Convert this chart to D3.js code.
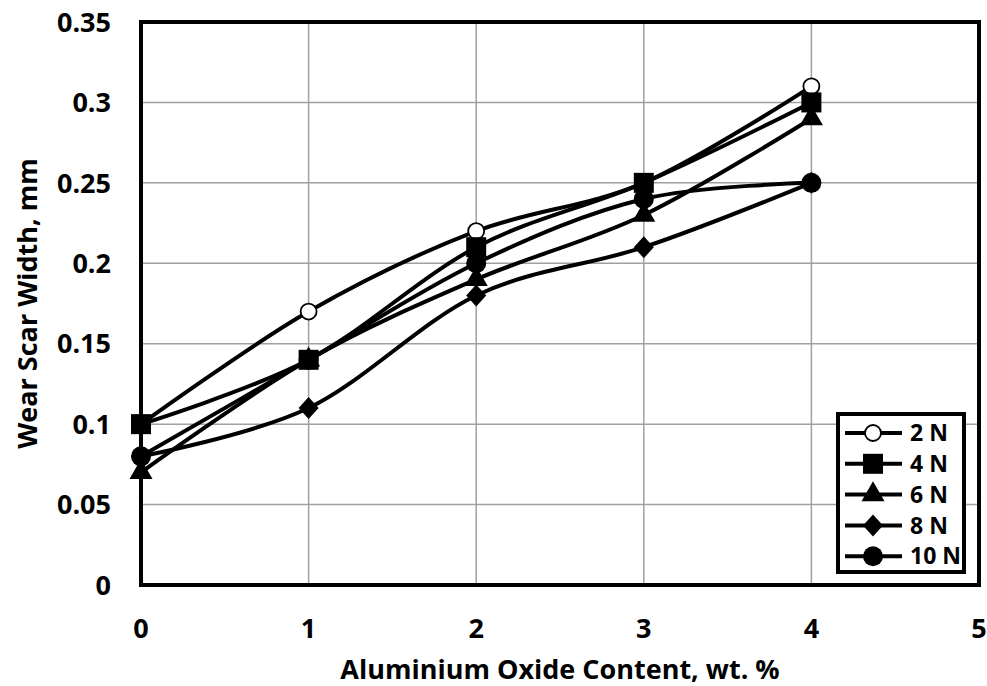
<!DOCTYPE html>
<html>
<head>
<meta charset="utf-8">
<script src="https://cdn.jsdelivr.net/npm/d3@7"></script>
<style>
  body { margin: 0; background: #fff; }
  text { font-family: "Open Sans", Lato, sans-serif; font-weight: bold; fill: #000; }
</style>
</head>
<body>
<div id="chart"></div>
<script>
// data
const contents = [0, 1, 2, 3, 4];
const load2N  = [0.10, 0.17, 0.22, 0.25, 0.31];
const load4N  = [0.10, 0.14, 0.21, 0.25, 0.30];
const load6N  = [0.07, 0.14, 0.19, 0.23, 0.29];
const load8N  = [0.08, 0.11, 0.18, 0.21, 0.25];
const load10N = [0.08, 0.14, 0.20, 0.24, 0.25];
const seriesNames = ['2 N', '4 N', '6 N', '8 N', '10 N'];
const xTicks = [0, 1, 2, 3, 4, 5];
const yTicks = [0, 0.05, 0.1, 0.15, 0.2, 0.25, 0.3, 0.35];

const width = 987, height = 686;
const margin = {top: 22, right: 8, bottom: 101, left: 141};

const svg = d3.select('#chart').append('svg')
    .attr('width', width)
    .attr('height', height);

const x = d3.scaleLinear().domain([0, 5]).range([margin.left, width - margin.right]);
const y = d3.scaleLinear().domain([0, 0.35]).range([height - margin.bottom, margin.top]);

// gridlines
svg.append('g').selectAll('line.h')
    .data(yTicks.slice(1, -1))
    .join('line')
    .attr('x1', x(0)).attr('x2', x(5))
    .attr('y1', d => y(d)).attr('y2', d => y(d))
    .attr('stroke', '#a0a0a0').attr('stroke-width', 1.5);
svg.append('g').selectAll('line.v')
    .data(xTicks.slice(1, -1))
    .join('line')
    .attr('y1', y(0)).attr('y2', y(0.35))
    .attr('x1', d => x(d)).attr('x2', d => x(d))
    .attr('stroke', '#a0a0a0').attr('stroke-width', 1.5);

// tick labels
svg.append('g').selectAll('text')
    .data(yTicks)
    .join('text')
    .attr('x', x(0) - 30)
    .attr('y', d => y(d))
    .attr('dy', '0.36em')
    .attr('text-anchor', 'end')
    .style('font-size', '27px')
    .text(d => d);
svg.append('g').selectAll('text')
    .data(xTicks)
    .join('text')
    .attr('x', d => x(d))
    .attr('y', y(0) + 53)
    .attr('text-anchor', 'middle')
    .style('font-size', '27px')
    .text(d => d);

// axis titles
svg.append('text')
    .attr('x', (x(0) + x(5)) / 2)
    .attr('y', 679)
    .attr('text-anchor', 'middle')
    .style('font-size', '27px')
    .text('Aluminium Oxide Content, wt. %');
svg.append('text')
    .attr('transform', `translate(37,${(y(0) + y(0.35)) / 2}) rotate(-90)`)
    .attr('text-anchor', 'middle')
    .style('font-size', '27px')
    .text('Wear Scar Width, mm');

// series
const all = [load2N, load4N, load6N, load8N, load10N];
const markers = ['openCircle', 'square', 'triangle', 'diamond', 'circle'];
const line = d3.line()
    .x((d, i) => x(contents[i]))
    .y(d => y(d))
    .curve(d3.curveCatmullRom.alpha(0));

function drawMarker(g, type, cx, cy) {
  if (type === 'openCircle') {
    g.append('circle').attr('cx', cx).attr('cy', cy).attr('r', 8)
      .attr('fill', '#fff').attr('stroke', '#000').attr('stroke-width', 1.8);
  } else if (type === 'square') {
    g.append('rect').attr('x', cx - 10).attr('y', cy - 10).attr('width', 20).attr('height', 20)
      .attr('fill', '#000');
  } else if (type === 'triangle') {
    g.append('path').attr('d', d3.symbol(d3.symbolTriangle, 230)())
      .attr('transform', `translate(${cx},${cy})`).attr('fill', '#000');
  } else if (type === 'diamond') {
    g.append('path').attr('d', `M0,-11L10,0L0,11L-10,0Z`)
      .attr('transform', `translate(${cx},${cy})`).attr('fill', '#000');
  } else {
    g.append('circle').attr('cx', cx).attr('cy', cy).attr('r', 10).attr('fill', '#000');
  }
}

// series in order, later ones on top (like the original)
const seriesG = svg.append('g');
all.forEach((vals, s) => {
  const g = seriesG.append('g');
  g.append('path').datum(vals)
    .attr('d', line)
    .attr('fill', 'none').attr('stroke', '#000').attr('stroke-width', 4);
  vals.forEach((v, i) => drawMarker(g, markers[s], x(contents[i]), y(v)));
});

// plot frame
svg.append('rect')
    .attr('x', x(0)).attr('y', y(0.35))
    .attr('width', x(5) - x(0)).attr('height', y(0) - y(0.35))
    .attr('fill', 'none').attr('stroke', '#000').attr('stroke-width', 4);

// legend
const lg = svg.append('g').attr('transform', 'translate(838,414)');
lg.append('rect').attr('width', 126).attr('height', 158)
    .attr('fill', '#fff').attr('stroke', '#000').attr('stroke-width', 4);
seriesNames.forEach((name, i) => {
  const cy = 19 + i * 30.8;
  lg.append('line').attr('x1', 7).attr('x2', 64).attr('y1', cy).attr('y2', cy)
    .attr('stroke', '#000').attr('stroke-width', 4);
  drawMarker(lg, markers[i], 35, cy);
  lg.append('text').attr('x', 72).attr('y', cy).attr('dy', '0.36em')
    .style('font-size', '23px').text(name);
});
</script>
</body>
</html>
